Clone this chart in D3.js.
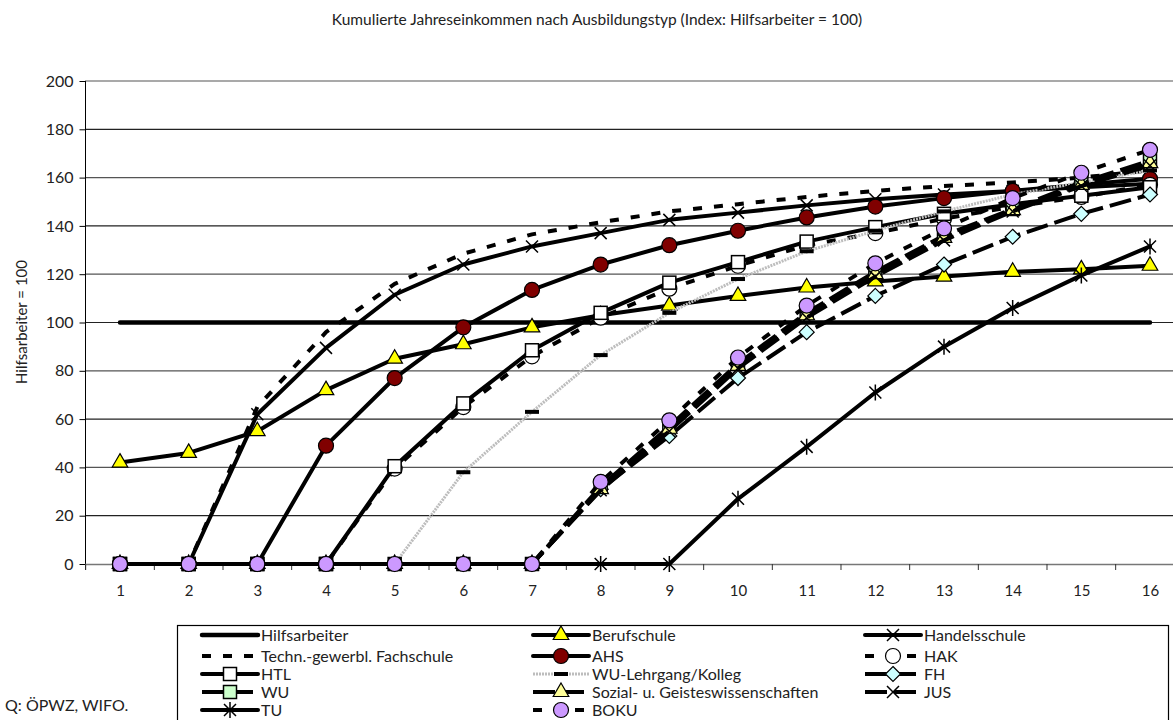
<!DOCTYPE html>
<html><head><meta charset="utf-8">
<script src="https://cdn.jsdelivr.net/npm/d3@7"></script>
<style>body{margin:0;background:#fff} svg{display:block} text{font-family:Lato,"DejaVu Sans",sans-serif;fill:#222}</style>
</head><body><svg id="c" width="1173" height="720"></svg>
<script>
const categories = [1,2,3,4,5,6,7,8,9,10,11,12,13,14,15,16];
const yTickValues = [0,20,40,60,80,100,120,140,160,180,200];
const titleText = "Kumulierte Jahreseinkommen nach Ausbildungstyp (Index: Hilfsarbeiter = 100)";
const yAxisTitle = "Hilfsarbeiter = 100";
const sourceText = "Q: ÖPWZ, WIFO.";

const seriesNames = ["Hilfsarbeiter","Berufschule","Handelsschule","Techn.-gewerbl. Fachschule","AHS","HAK","HTL","WU-Lehrgang/Kolleg","FH","WU","Sozial- u. Geisteswissenschaften","JUS","TU","BOKU"];
const hilfsarbeiter = [100,100,100,100,100,100,100,100,100,100,100,100,100,100,100,100];
const berufschule   = [42,46,55,72,85,91,98,103,107,111,114.5,117,119,121,122,123.5];
const handelsschule = [0,0,62,89.5,111.5,124,131.5,137,142.5,145.5,148.5,151,153,154.5,156,157.5];
const technFach     = [0,0,65,96,116,128.5,136.5,141.5,146,149,152,154.5,156.5,158,160,163];
const ahs           = [0,0,0,49,77,98,113.5,124,132,138,143.5,148,151.5,154.5,157,159.5];
const hak           = [0,0,0,0,39.5,65,86,102,114,123.5,132,137,143,148,152,157];
const htl           = [0,0,0,0,40.5,66.5,88.5,104,116.5,125,133.5,139.5,145,149,152.5,156];
const wuLehrgang    = [0,0,0,0,0,38,63,86.5,104,118,129.5,138,146,153,158,163];
const fh            = [0,0,0,0,0,0,0,31,53,77,96,111,124,135.5,145,153];
const wu            = [0,0,0,0,0,0,0,32,57,83,104,121,136,147,158,167];
const sozial        = [0,0,0,0,0,0,0,31,56,82,103,120,135,146.5,157,166];
const jus           = [0,0,0,0,0,0,0,30.5,55,81,102,119,134,146,156.5,165];
const tu            = [0,0,0,0,0,0,0,0,0,27,48.5,71,90,106,119.5,131.5];
const boku          = [0,0,0,0,0,0,0,34,59.5,85.5,107,124.5,139,151.5,162,171.5];

const seriesValues = [hilfsarbeiter,berufschule,handelsschule,technFach,ahs,hak,htl,wuLehrgang,fh,wu,sozial,jus,tu,boku];
// styles per series: [stroke, width, dash, marker, fill]
const seriesStyles = [
  ["#000",4.5,null,"none",null],
  ["#000",4,null,"triangle","#ffff00"],
  ["#000",4,null,"x",null],
  ["#000",4,"9,12","none",null],
  ["#000",4,null,"circle","#800000"],
  ["#000",4,"9,12","circle","#fff"],
  ["#000",4,null,"square","#fff"],
  ["#bdbdbd",3,"2,1","bar","#000"],
  ["#000",4,"22,7","diamond","#ccffff"],
  ["#000",4,"22,7","square","#ccffcc"],
  ["#000",4,"22,7","triangle","#ffff99"],
  ["#000",4,"22,7","x",null],
  ["#000",4,null,"asterisk",null],
  ["#000",4,"9,12","circle","#cc99ff"]
];

const svg = d3.select("#c");
const x = d3.scalePoint().domain(categories).range([120,1150]);
const xEdge = d3.scaleLinear().domain([0.5,16.5]).range([85.67,1184.33]);
const y = d3.scaleLinear().domain([0,200]).range([564,81]);

svg.append("text").attr("x",597).attr("y",25).attr("text-anchor","middle").style("font-size","15.5px").text(titleText);

// gridlines
svg.append("g").selectAll("line").data(yTickValues.filter(v=>v>0)).join("line")
  .attr("x1",85).attr("x2",1173).attr("y1",d=>y(d)).attr("y2",d=>y(d))
  .attr("stroke",(d,i)=>i%2? "#555":"#222").attr("stroke-width",1.2);

// y axis
const ya = svg.append("g").attr("transform","translate(85.5,0)")
  .call(d3.axisLeft(y).tickValues(yTickValues).tickSize(6).tickPadding(6));
ya.select(".domain").attr("stroke","#000").attr("d","M0,81V570");
ya.selectAll(".tick line").attr("stroke","#000");
ya.selectAll("text").style("font-size","16px").style("font-family","Lato,sans-serif").attr("fill","#222");

// x axis
svg.append("line").attr("x1",85).attr("x2",1173).attr("y1",564.5).attr("y2",564.5).attr("stroke","#777").attr("stroke-width",1.5);
svg.append("g").selectAll("line").data(d3.range(0.5,17,1)).join("line")
  .attr("x1",d=>xEdge(d)).attr("x2",d=>xEdge(d)).attr("y1",564).attr("y2",570).attr("stroke","#333");
const xa = svg.append("g").attr("transform","translate(0,564)").call(d3.axisBottom(x).tickSize(0).tickPadding(21));
xa.select(".domain").remove();
xa.selectAll("text").style("font-size","15px").style("font-family","Lato,sans-serif").attr("fill","#222");

svg.append("text").attr("transform","translate(27,322) rotate(-90)").attr("text-anchor","middle").style("font-size","15px").text(yAxisTitle);

function drawMarker(g, type, fill){
  if(type==="triangle") g.append("path").attr("d",d3.symbol(d3.symbolTriangle,105)()).attr("fill",fill).attr("stroke","#000").attr("stroke-width",1.2);
  else if(type==="circle") g.append("circle").attr("r",7.5).attr("fill",fill).attr("stroke","#000").attr("stroke-width",1.2);
  else if(type==="square") g.append("rect").attr("x",-6.5).attr("y",-6.5).attr("width",13).attr("height",13).attr("fill",fill).attr("stroke","#000").attr("stroke-width",1.5);
  else if(type==="diamond") g.append("path").attr("d","M0,-7.5L7.5,0L0,7.5L-7.5,0Z").attr("fill",fill).attr("stroke","#000").attr("stroke-width",1.2);
  else if(type==="x") g.append("path").attr("d","M-6,-6L6,6M-6,6L6,-6").attr("stroke","#000").attr("stroke-width",1.5).attr("fill","none");
  else if(type==="asterisk") g.append("path").attr("d","M-6,-6L6,6M-6,6L6,-6M0,-8L0,8").attr("stroke","#000").attr("stroke-width",1.5).attr("fill","none");
  else if(type==="bar") g.append("rect").attr("x",-7).attr("y",-2).attr("width",14).attr("height",4).attr("fill",fill);
}

const line = d3.line().x((d,i)=>x(categories[i])).y(d=>y(d));
const plot = svg.append("g");
seriesValues.forEach((vals,si)=>{
  const [stroke,w,dash,marker,fill] = seriesStyles[si];
  const g = plot.append("g");
  g.append("path").attr("d",line(vals)).attr("fill","none").attr("stroke",stroke).attr("stroke-width",w)
    .attr("stroke-dasharray",dash).attr("stroke-linejoin","round").attr("stroke-linecap",dash?"butt":"round");
  if(marker!=="none"){
    vals.forEach((v,i)=>{
      const mg = g.append("g").attr("transform",`translate(${x(categories[i])},${y(v)})`);
      drawMarker(mg,marker,fill);
    });
  }
});

// legend
svg.append("rect").attr("x",177.5).attr("y",625.5).attr("width",991).attr("height",100).attr("fill","#fff").attr("stroke","#000").attr("stroke-width",1.2);
const legendCols = [202,533,865];
const legendRows = [635,656,674,692,710];
seriesNames.forEach((name,si)=>{
  const col = si%3, row = Math.floor(si/3);
  const x0 = legendCols[col], yy = legendRows[row];
  const [stroke,w,dash,marker,fill] = seriesStyles[si];
  const g = svg.append("g");
  g.append("line").attr("x1",x0).attr("x2",x0+56).attr("y1",yy).attr("y2",yy).attr("stroke",stroke).attr("stroke-width",w)
    .attr("stroke-dasharray",dash).attr("stroke-linecap",dash?"butt":"round");
  if(marker!=="none") drawMarker(g.append("g").attr("transform",`translate(${x0+28},${yy})`),marker,fill);
  g.append("text").attr("x",x0+59).attr("y",yy+5.5).style("font-size","16px").text(name);
});

svg.append("text").attr("x",5).attr("y",711).style("font-size","16px").text(sourceText);
</script></body></html>
